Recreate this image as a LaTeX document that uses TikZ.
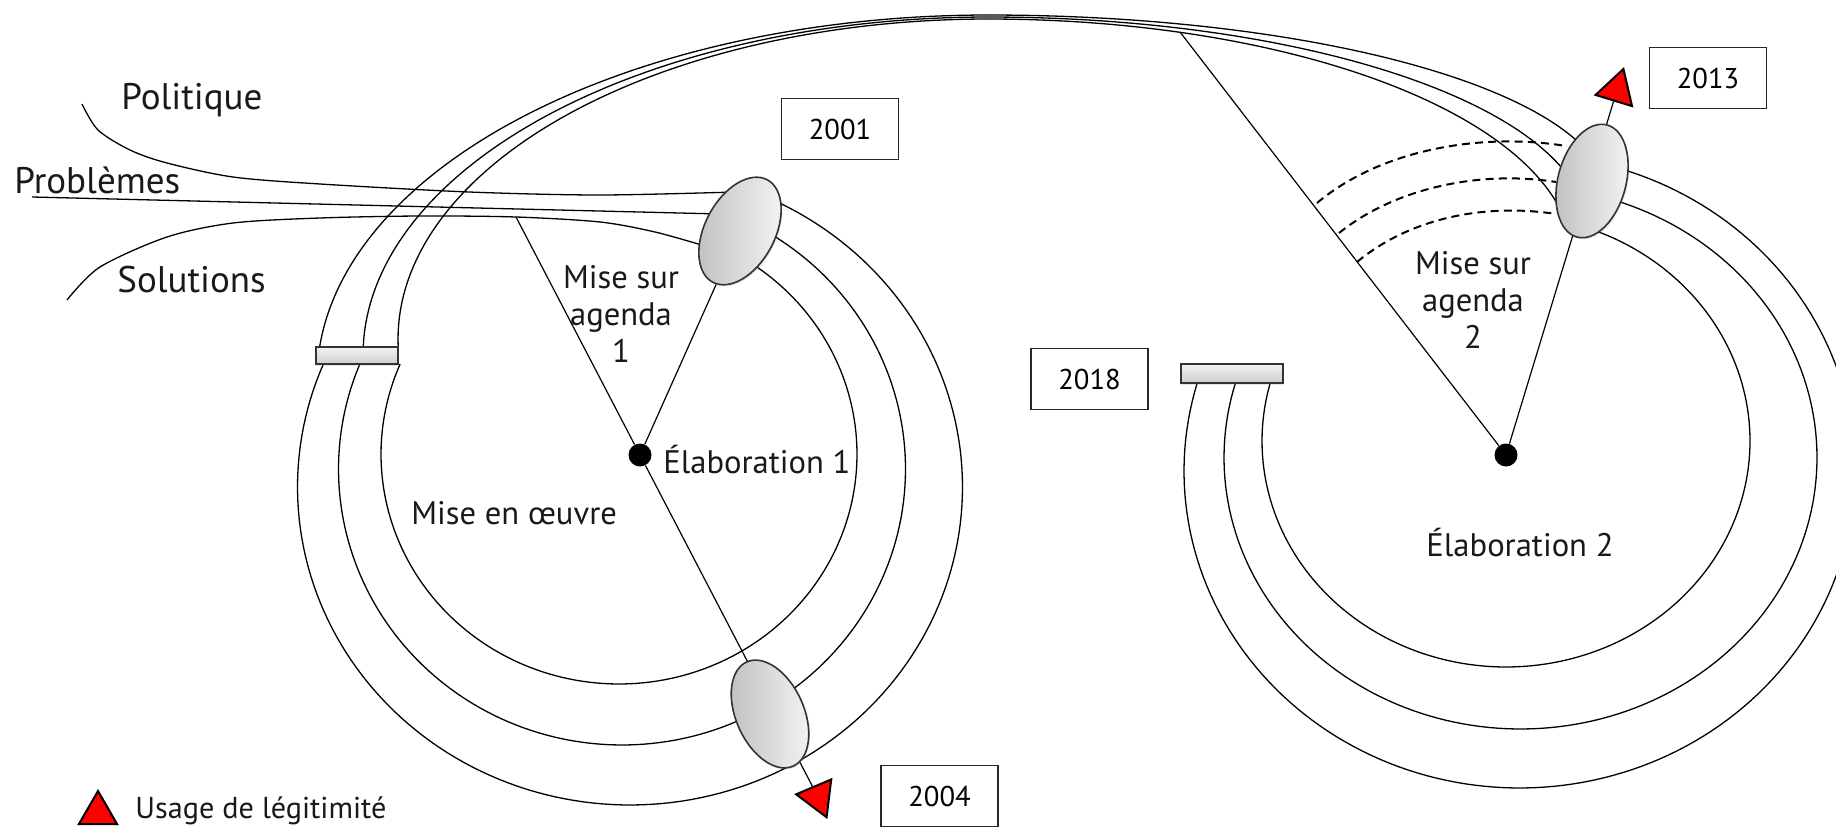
\documentclass[tikz,border=0pt]{standalone}
\usepackage{fontspec}
\setmainfont{PT Sans}
\usetikzlibrary{shapes.geometric,shadows}
\pgfdeclarelayer{paper}
\pgfdeclarelayer{lines}
\pgfsetlayers{paper,lines,main}
\begin{document}
\begin{tikzpicture}[x=0.5pt,y=-0.5pt,
  lbl/.style={font=\fontsize{16.3}{18.5}\selectfont, inner sep=0pt, text=black!90},
  stream/.style={font=\fontsize{18.5}{20}\selectfont, inner sep=0pt, text=black!90},
  ring/.style={line width=0.65pt},
  link/.style={line width=0.6pt},
  yearbox/.style={draw=black!85, line width=0.9pt, fill=white, minimum width=58.5pt,
    minimum height=30.5pt, inner sep=0pt, font=\fontsize{14.3}{17}\selectfont},
  gate/.style={ellipse, draw=black!80, line width=0.8pt, inner sep=0pt,
    left color=gray!50, right color=gray!8,
    drop shadow={opacity=0.2, shadow xshift=0.6pt, shadow yshift=-0.8pt}},
  bar/.style={rectangle, draw=black!80, line width=0.8pt, inner sep=0pt,
    top color=gray!10, bottom color=gray!38,
    drop shadow={opacity=0.2, shadow xshift=0pt, shadow yshift=-1.2pt}},
  flag/.style={regular polygon, regular polygon sides=3, minimum size=22pt,
    inner sep=0pt, fill=red, draw=black, line width=1pt},
  hub/.style={circle, fill=black, minimum size=11.5pt, inner sep=0pt},
  dashline/.style={line width=1pt, dash pattern=on 4pt off 2.6pt}
]
\useasboundingbox (0,0) rectangle (1836,829);
\begin{pgfonlayer}{paper}
  \fill[white] (0,0) rectangle (1836,829);
\end{pgfonlayer}

% ---- window gates on the cycles
\node[gate, minimum width=58pt, minimum height=35pt, rotate=62]  (g2001) at (740,231) {};
\node[gate, minimum width=58pt, minimum height=34pt, rotate=75]  (g2013) at (1592,181) {};
\node[gate, minimum width=57pt, minimum height=34pt, rotate=-66] (g2004) at (770,714) {};

% ---- bars closing the cycles
\node[bar, minimum width=41pt, minimum height=8.5pt] (barL) at (357,355.5) {};
\node[bar, minimum width=51pt, minimum height=9.5pt] (barR) at (1232,373.5) {};

% ---- hubs
\node[hub] (hubL) at (640,455) {};
\node[hub] (hubR) at (1506,455) {};

% ---- legitimacy flags
\node[flag, rotate=-17] (f2013) at (1617,90) {};
\node[flag, rotate=83]  (f2004) at (818,797) {};
\node[flag]             (fkey)  at (98,813) {};

% ---- years
\node[yearbox] (y2001) at (840,129) {2001};
\node[yearbox] (y2013) at (1708,78) {2013};
\node[yearbox] (y2018) at (1089.5,379) {2018};
\node[yearbox] (y2004) at (939.5,796) {2004};

% ---- labels
\node[stream, anchor=base west] (tPol) at (121,110) {Politique};
\node[stream, anchor=base west] (tPro) at (14,193) {Problèmes};
\node[stream, anchor=base west] (tSol) at (117,292) {Solutions};
\node[lbl, align=center] (tAg1) at (621,314) {Mise sur\\agenda\\1};
\node[lbl, align=center] (tAg2) at (1473,300) {Mise sur\\agenda\\2};
\node[lbl, anchor=base west] (tEl1) at (663,473) {Élaboration 1};
\node[lbl, anchor=base] (tEl2) at (1520,556) {Élaboration 2};
\node[lbl, anchor=base west] (tMeo) at (411,524) {Mise en œuvre};
\node[lbl, font=\fontsize{15.1}{18}\selectfont, anchor=base west] (tKey) at (135,818) {Usage de légitimité};

% ---- free ends of connectors
\coordinate (solFoot) at (516,217);
\coordinate (arcFoot) at (1180,32);
\coordinate (d1) at (1317,203);
\coordinate (d2) at (1339,233);
\coordinate (d3) at (1357,262);
\coordinate (e1) at (1566,146);
\coordinate (e2) at (1556,182);
\coordinate (e3) at (1556,214);

\begin{pgfonlayer}{lines}
  % streams
  \draw[ring] plot[smooth] coordinates {(82,104) (98,130) (130,150) (167,163) (233,177)
     (320,184) (469,192) (600,195) (735,192)};
  \draw[ring] (32,197) -- (720,214);
  \draw[ring] plot[smooth] coordinates {(67,300) (100,267) (167,237) (233,223) (320,218)
     (420,216) (516,217) (600,222) (655,232) (705,246)};

  % upper band joining the two cycles
  \draw[ring] plot[domain=185.04:270, samples=70, variable=\t] ({988+671*cos(\t)},{379+364*sin(\t)});
  \draw[ring] plot[domain=270:343, samples=60, variable=\t] ({988+620*cos(\t)},{198+183*sin(\t)});
  \draw[ring] plot[domain=181.36:270, samples=70, variable=\t] ({988+625*cos(\t)},{355+338*sin(\t)});
  \draw[ring] plot[domain=270:345, samples=60, variable=\t] ({988+600*cos(\t)},{230+213*sin(\t)});
  \draw[ring] plot[domain=178.57:270, samples=70, variable=\t] ({988+590*cos(\t)},{339+320*sin(\t)});
  \draw[ring] plot[domain=270:347.5, samples=60, variable=\t] ({988+585*cos(\t)},{259+240*sin(\t)});

  % first cycle: from the 2001 gate round to the left bar
  \draw[ring] plot[domain=-66:202.8, samples=160, variable=\t] ({630+332.5*cos(\t)},{487+318*sin(\t)});
  \draw[ring] plot[domain=-59:202.35, samples=160, variable=\t] ({622+283.5*cos(\t)},{469+276*sin(\t)});
  \draw[ring] plot[domain=-56:203.1, samples=160, variable=\t] ({619+238*cos(\t)},{454.25+229.75*sin(\t)});

  % second cycle: from the 2013 gate round to the right bar
  \draw[ring] plot[domain=-74:196.1, samples=160, variable=\t] ({1519.5+335.5*cos(\t)},{471+317*sin(\t)});
  \draw[ring] plot[domain=-73:195.96, samples=160, variable=\t] ({1520.5+296.5*cos(\t)},{457.6+271.4*sin(\t)});
  \draw[ring] plot[domain=-70:194.9, samples=160, variable=\t] ({1506+244*cos(\t)},{441+226*sin(\t)});

  % spokes from the hubs
  \draw[link] (hubL) -- (solFoot);
  \draw[link] (hubL) -- (g2001);
  \draw[link] (hubL) -- (f2004);
  \draw[link] (hubR) -- (arcFoot);
  \draw[link] (hubR) -- (f2013);

  % agenda-setting attempts
  \draw[dashline] (d1) .. controls (1380,150) and (1480,132) .. (e1);
  \draw[dashline] (d2) .. controls (1395,188) and (1480,170) .. (e2);
  \draw[dashline] (d3) .. controls (1410,218) and (1485,203) .. (e3);
\end{pgfonlayer}
\end{tikzpicture}
\end{document}
